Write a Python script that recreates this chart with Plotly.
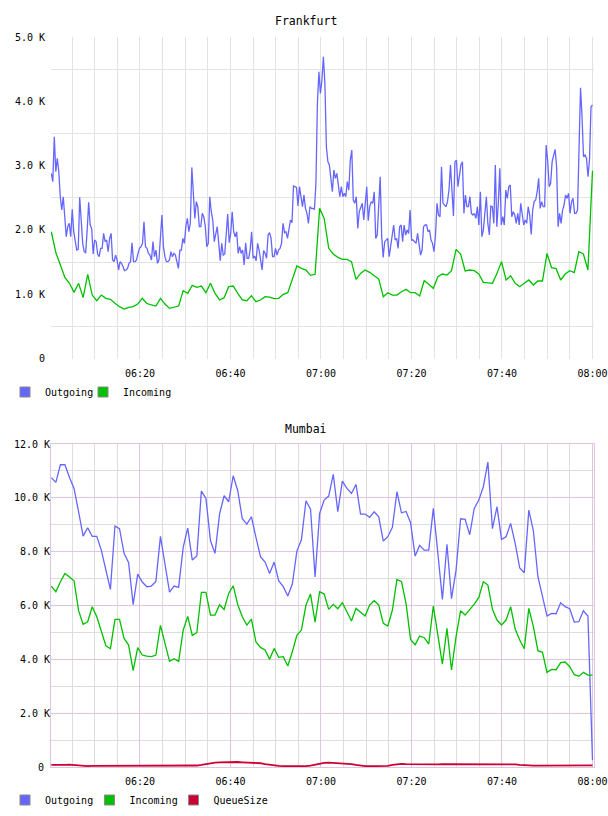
import plotly.graph_objects as go
import pandas as pd

# ---------------- data ----------------
fra_out = [2879, 2750, 3449, 2905, 3112, 2905, 2516, 2309, 2516, 2102,
           1894, 2050, 2102, 1894, 2319, 1972, 1791, 1687, 1697, 2506,
           2154, 1791, 1661, 1646, 1998, 2428, 2076, 2024, 1625, 1843,
           1817, 1625, 1583, 1713, 1713, 1946, 1817, 1843, 1661, 1868,
           1946, 1532, 1506, 1609, 1532, 1376, 1506, 1480, 1428, 1366,
           1376, 1402, 1480, 1506, 1801, 1506, 1506, 1532, 1635, 1713,
           1739, 1791, 2128, 1739, 1713, 1635, 1609, 1532, 1817, 1583,
           1687, 1480, 1532, 1868, 2231, 1739, 1583, 1506, 1506, 1532,
           1661, 1583, 1635, 1609, 1480, 1402, 1687, 1687, 1868, 1791,
           2050, 2179, 1972, 2102, 2972, 2516, 2179, 2439, 2361, 2050,
           2050, 2257, 2205, 2050, 1739, 1791, 2516, 2283, 2154, 1817,
           1972, 2050, 1791, 1521, 1791, 1609, 1625, 1894, 2247, 1801,
           1946, 2283, 1972, 1894, 1972, 1635, 1739, 1635, 1687, 1454,
           1801, 1558, 1558, 1687, 1972, 1558, 1594, 1521, 1791, 1687,
           1532, 1376, 1677, 1635, 1558, 1920, 1957, 1868, 1583, 1583,
           1713, 1609, 1687, 1713, 1791, 2102, 1957, 1972, 1868, 1998,
           2154, 2112, 2682, 2672, 2661, 2371, 2672, 2516, 2361, 2542,
           2335, 2257, 2102, 2361, 2335, 2335, 2319, 2724, 3968, 4460,
           4123, 4330,
           4693, 4279, 3294, 3061, 3009, 2801, 2594, 2931, 2801, 2879,
           2646, 2516, 2672, 2516, 2568, 2516, 2750, 2620, 3086, 3242,
           2465, 2413, 2516, 2024, 2283, 2361, 2413, 2154, 2490, 2672,
           2143, 2361, 2439, 2413, 2594, 1868, 1920, 2361, 2828, 1894,
           1573, 1817, 1843, 1868, 1583, 1765, 1894, 2076, 1843, 1868,
           1713, 2050, 2076, 1817, 2076, 1920, 1998, 1946, 2309, 1843,
           1843, 1817, 1791, 1946, 1739, 1609, 1687, 2050, 2076, 2076,
           1972, 1998, 1843, 1791, 1661, 1920, 2413, 2231, 2205, 2983,
           2413, 2387, 2361, 2439, 2620, 3009, 2646, 2216, 3061, 3086,
           2672, 2828, 3009, 3061, 2257, 2542, 2361, 2361, 2516, 2257,
           2231, 2257, 2179, 2361, 2076, 2594, 1894, 1998, 2309, 2516,
           2102, 1920, 2371, 2361, 2102, 3009, 2050, 2413, 2957, 2076,
           2205, 2076, 2620, 2490, 2672, 2698, 2205, 2283, 2231, 2102,
           2257, 2076, 2413, 2257, 2076, 2154, 2102, 2361, 2231, 1931,
           2309, 2439, 2465, 2594, 2801, 2335, 2439, 2361, 2361, 3319,
           3086, 2672, 2724, 3061, 3164, 3252, 2983, 2050, 2257, 2102,
           2309, 2387, 2542, 2490, 2568, 2257, 2439, 2490, 2257, 2257,
           2309, 3501, 4212, 3760, 3138, 3164, 3112, 2828, 3086, 3916,
           3942]

fra_in = [1972, 1646, 1454, 1257, 1169, 1029, 1169, 946, 1309, 987,
          899, 987, 936, 920, 858, 806, 770, 796, 806, 847,
          936, 858, 832, 816, 936, 847, 780, 796, 816, 1055,
          1013, 1138, 1107, 1127, 1024, 1169, 1013, 910, 946, 1117,
          1127, 1013, 910, 899, 977, 884, 910, 961, 956, 930,
          936, 998, 1024, 1231, 1438, 1402, 1376, 1293, 1309, 2335,
          2179,
          1713, 1625, 1573, 1542, 1542, 1506, 1231, 1324, 1376, 1340,
          1288, 1236, 961, 1024, 987, 987, 1039, 1075, 1024, 1024,
          972, 1210, 1153, 1091, 1272, 1314, 1298, 1366, 1697, 1625,
          1361, 1376, 1366, 1314, 1184, 1179, 1169, 1324, 1506, 1221,
          1288, 1169, 1117, 1169, 1221, 1143, 1205, 1205, 1635, 1412,
          1397, 1221, 1314, 1366, 1335, 1661, 1625, 1376, 2921]

mum_out = [10746, 10573, 11229, 11229, 10758, 10350, 9483, 8579, 8889, 8567,
           8567, 8059, 7317, 6599, 8951, 8852, 7936, 7589, 6029, 7168,
           6871, 6698, 6722, 6896, 8567, 7539, 6500, 6722, 6673, 8158,
           8876, 7688, 7837, 10251, 9978, 8406, 7936, 9396, 10077, 9854,
           10820, 10263, 9223, 9025, 9297, 8530, 7812, 7614, 7193, 7614,
           6920, 6698, 6351, 6797, 8022, 8443, 9892, 9582, 7057, 9421,
           9916,
           10065, 10870, 9483, 10622, 10350, 10164, 10498, 9396, 9396, 9273,
           9483, 9297, 8394, 8555, 8901, 10226, 9446, 9495, 9075, 7837,
           8233, 8059, 8059, 9607, 7936, 6227, 8270, 6252, 7317, 9223,
           9198, 8629, 9607, 9916, 10412, 11328, 8852, 9669, 8456, 8555,
           9050, 8307, 7391, 7218, 9545, 8777, 7069, 6351, 5608, 5707,
           5695, 6103, 5955, 5881, 5385, 5398, 5806, 5608, 260]

mum_in = [6722, 6512, 6883, 7193, 7057, 6920, 5806, 5299, 5398, 5955,
          5583, 5026, 4506, 4395, 5484, 5484, 4779, 4531, 3578, 4432,
          4160, 4123, 4098, 4160, 5262, 4593, 3925, 4024, 3925, 5088,
          5596, 4890, 4989, 6487, 6487, 5645, 5645, 6029, 5856, 6450,
          6735, 6029, 5583, 5274, 5497, 4643, 4444, 4345, 3999, 4407,
          4073, 4098, 3751, 4283, 4890, 5088, 6017, 6425, 5385, 6512,
          6425,
          5856, 6041, 5881, 6103, 5769, 5422, 5893, 5757, 5608, 6017,
          6178, 6017, 5336, 5237, 5831, 6970, 6883, 6079, 4742, 4543,
          4865, 4803, 4568, 5980, 4964, 3825, 5150, 3603, 4841, 5806,
          5645, 5831, 6054, 6301, 6883, 6759, 5856, 5460, 5274, 5460,
          5955, 5125, 4717, 4395, 5893, 5212, 4321, 4259, 3516, 3627,
          3615, 3875, 3900, 3726, 3429, 3367, 3516, 3417, 3417]

mum_queue = [80, 75, 70, 80, 90, 70, 50, 40, 35, 40,
             40, 45, 45, 40, 40, 35, 35, 35, 35, 35,
             35, 35, 35, 35, 35, 35, 35, 35, 40, 40,
             40, 45, 55, 75, 110, 140, 160, 170, 180, 190,
             195, 185, 175, 170, 165, 160, 140, 110, 80, 60,
             45, 35, 30, 30, 30, 30, 35, 50, 90, 130,
             155, 160, 155, 135, 125, 120, 110, 80, 50, 35,
             30, 30, 30, 35, 40, 80, 110, 115, 110, 105,
             100, 100, 100, 95, 100, 100, 105, 105, 100, 100,
             100, 100, 100, 105, 110, 105, 100, 100, 105, 105,
             100, 100, 95, 80, 65, 55, 50, 50, 50, 50,
             55, 55, 60, 60, 60, 60, 65, 65, 65, 60]

t_start = "2024-01-01 06:00:24"
t_end = "2024-01-01 08:00:00"
t_fine = pd.date_range(t_start, t_end, periods=len(fra_out))
t_min = pd.date_range(t_start, t_end, periods=len(fra_in))
t_min_m = pd.date_range(t_start, t_end, periods=len(mum_out))

x_range = ["2024-01-01 06:00:20", "2024-01-01 08:00:20"]

fra_ticks = [0, 1000, 2000, 3000, 4000, 5000]
fra_ticktext = ["0", "1.0 K", "2.0 K", "3.0 K", "4.0 K", "5.0 K"]
fra_grid = [500, 1500, 2500, 3500, 4500]
mum_ticks = [0, 2000, 4000, 6000, 8000, 10000, 12000]
mum_ticktext = ["0\u00a0", "2.0 K", "4.0 K", "6.0 K", "8.0 K", "10.0 K", "12.0 K"]

C_OUT = "#6666ff"
C_IN = "#00c000"
C_Q = "#cc0033"

FONT = "DejaVu Sans Mono"
W, H = 608, 816

def px_x(p):
    return p / W

def px_y(p):
    return 1 - p / H

fig = go.Figure()

# Frankfurt
fig.add_trace(go.Scatter(x=t_fine, y=fra_out, mode="lines", line=dict(color=C_OUT, width=1.3),
                         xaxis="x", yaxis="y", showlegend=False, name="Outgoing"))
fig.add_trace(go.Scatter(x=t_min, y=fra_in, mode="lines", line=dict(color=C_IN, width=1.3),
                         xaxis="x", yaxis="y", showlegend=False, name="Incoming"))
# Mumbai
fig.add_trace(go.Scatter(x=t_min_m, y=mum_out, mode="lines", line=dict(color=C_OUT, width=1.3),
                         xaxis="x2", yaxis="y2", showlegend=False, name="Outgoing"))
fig.add_trace(go.Scatter(x=t_min_m, y=mum_in, mode="lines", line=dict(color=C_IN, width=1.3),
                         xaxis="x2", yaxis="y2", showlegend=False, name="Incoming"))
fig.add_trace(go.Scatter(x=t_min_m, y=mum_queue, mode="lines", line=dict(color=C_Q, width=1.8),
                         xaxis="x2", yaxis="y2", showlegend=False, name="QueueSize"))

# legend-only entries (square swatches), one legend per entry for exact placement
legend_items = [
    ("Outgoing", C_OUT, "legend", "x", "y"),
    ("Incoming", C_IN, "legend2", "x", "y"),
    ("Outgoing", C_OUT, "legend3", "x2", "y2"),
    ("Incoming", C_IN, "legend4", "x2", "y2"),
    ("QueueSize", C_Q, "legend5", "x2", "y2"),
]
for name, color, lg, xa, ya in legend_items:
    fig.add_trace(go.Scatter(x=[None], y=[None], mode="markers", name=name, legend=lg,
                             xaxis=xa, yaxis=ya, showlegend=True,
                             marker=dict(symbol="square", size=10, color=color,
                                         line=dict(color="#888888", width=1))))

tickfont = dict(family=FONT, size=10, color="#000000")
grey = "#e3e3e3"
pink = "#e0c4e0"
minor_grey = "#dddddd"

xdom = [px_x(51), px_x(594)]

def legend_box(xpx, ypx):
    return dict(orientation="h", x=px_x(xpx), xanchor="left", y=px_y(ypx), yanchor="middle",
                font=dict(family=FONT, size=10, color="#000000"),
                bgcolor="rgba(0,0,0,0)", borderwidth=0)

fig.update_layout(
    width=W, height=H,
    margin=dict(l=0, r=0, t=0, b=0, autoexpand=False),
    paper_bgcolor="white", plot_bgcolor="white",
    xaxis=dict(domain=xdom, anchor="y", type="date", range=x_range, automargin=False,
               tickformat="%H:%M", dtick=20 * 60 * 1000, tick0="2024-01-01 06:00",
               showgrid=True, gridcolor=grey, gridwidth=1,
               minor=dict(dtick=5 * 60 * 1000, tick0="2024-01-01 06:00", showgrid=True,
                          gridcolor=grey, gridwidth=1),
               ticks="", tickfont=tickfont, ticklabelstandoff=7,
               showline=False, zeroline=False, fixedrange=True),
    yaxis=dict(domain=[px_y(358.5), px_y(37)], anchor="x", range=[0, 5000], automargin=False,
               tickmode="array", tickvals=fra_ticks, ticktext=fra_ticktext,
               showgrid=False,
               minor=dict(tickmode="array", tickvals=fra_grid, showgrid=True,
                          gridcolor=grey, gridwidth=1),
               ticks="", tickfont=tickfont, ticklabelstandoff=5,
               showline=False, zeroline=False, fixedrange=True),
    xaxis2=dict(domain=xdom, anchor="y2", type="date", range=x_range, automargin=False,
                tickformat="%H:%M", dtick=20 * 60 * 1000, tick0="2024-01-01 06:00",
                showgrid=True, gridcolor=pink, gridwidth=1,
                minor=dict(dtick=5 * 60 * 1000, tick0="2024-01-01 06:00", showgrid=True,
                           gridcolor=minor_grey, gridwidth=1),
                ticks="", tickfont=tickfont, ticklabelstandoff=5,
                showline=True, linecolor=pink, linewidth=1, mirror=True,
                zeroline=False, fixedrange=True),
    yaxis2=dict(domain=[px_y(767), px_y(444)], anchor="x2", range=[0, 12000], automargin=False,
                tickmode="array", tickvals=mum_ticks, ticktext=mum_ticktext,
                showgrid=True, gridcolor=pink, gridwidth=1,
                minor=dict(dtick=1000, tick0=0, showgrid=True, gridcolor=minor_grey, gridwidth=1),
                ticks="", tickfont=tickfont, ticklabelstandoff=-2,
                showline=True, linecolor=pink, linewidth=1, mirror=True,
                zeroline=False, fixedrange=True),
    legend=legend_box(5, 392),
    legend2=legend_box(83, 392),
    legend3=legend_box(5, 800),
    legend4=legend_box(89.5, 800),
    legend5=legend_box(173.5, 800),
    annotations=[
        dict(text="Frankfurt", x=0.503, y=px_y(20.5), xref="paper", yref="paper",
             showarrow=False, xanchor="center", yanchor="middle",
             font=dict(family=FONT, size=11.5, color="#000000")),
        dict(text="Mumbai", x=0.503, y=px_y(428.5), xref="paper", yref="paper",
             showarrow=False, xanchor="center", yanchor="middle",
             font=dict(family=FONT, size=11.5, color="#000000")),
    ],
)

fig.write_html("out.html")
